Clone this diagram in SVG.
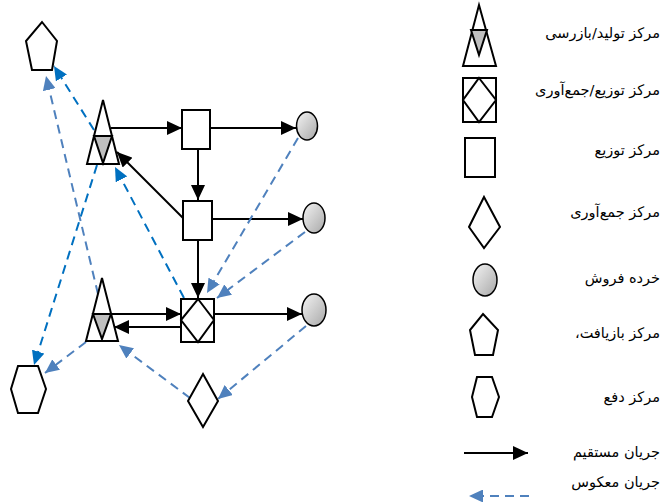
<svg xmlns="http://www.w3.org/2000/svg" width="665" height="502" viewBox="0 0 665 502">
<style>
.s{fill:#fff;stroke:#000;stroke-width:2;stroke-linejoin:miter}
.g{fill:#bfbfbf;stroke:#000;stroke-width:2}
.e{fill:url(#gr);stroke:#000;stroke-width:1.5}
.k{stroke:#000;stroke-width:2;fill:none;marker-end:url(#ak)}
.d1{stroke:#0070C0;stroke-width:2;fill:none;stroke-dasharray:9 6;marker-end:url(#ab1)}
.d2{stroke:#4F81BD;stroke-width:2;fill:none;stroke-dasharray:9 6;marker-end:url(#ab2)}
.t{font-family:"DejaVu Sans","Noto Sans",sans-serif;font-size:14.5px;fill:#000;direction:rtl;text-anchor:start;unicode-bidi:embed}
</style>
<defs>
<linearGradient id="gr" x1="0" y1="0" x2="1" y2="1">
<stop offset="0" stop-color="#f4f4f4"/>
<stop offset="1" stop-color="#a8a8a8"/>
</linearGradient>
<marker id="ak" markerUnits="userSpaceOnUse" markerWidth="15" markerHeight="14" viewBox="0 0 15 14" refX="15" refY="7" orient="auto"><path d="M0,0 L15,7 L0,14 z" fill="#000"/></marker>
<marker id="ab1" markerUnits="userSpaceOnUse" markerWidth="14" markerHeight="13" viewBox="0 0 14 13" refX="14" refY="6.5" orient="auto"><path d="M0,0 L14,6.5 L0,13 z" fill="#0070C0"/></marker>
<marker id="ab2" markerUnits="userSpaceOnUse" markerWidth="14" markerHeight="13" viewBox="0 0 14 13" refX="14" refY="6.5" orient="auto"><path d="M0,0 L14,6.5 L0,13 z" fill="#4F81BD"/></marker>
</defs>

<g id="connectors">
<line class="k" x1="111" y1="128" x2="182" y2="128"/>
<line class="k" x1="210" y1="128" x2="296" y2="128"/>
<line class="k" x1="198" y1="149" x2="198" y2="200"/>
<line class="k" x1="212" y1="219" x2="303" y2="219"/>
<line class="k" x1="183" y1="218" x2="117" y2="152"/>
<line class="k" x1="198" y1="240" x2="198" y2="298"/>
<line class="k" x1="110" y1="314" x2="181" y2="314"/>
<line class="k" x1="181" y1="327" x2="114" y2="327"/>
<line class="k" x1="214" y1="314" x2="302" y2="314"/>
<line class="d1" x1="94" y1="130" x2="54" y2="66"/>
<line class="d2" x1="98" y1="294" x2="46" y2="76"/>
<line class="d1" x1="97" y1="165" x2="34" y2="365"/>
<line class="d1" x1="184" y1="298" x2="115" y2="167"/>
<line class="d2" x1="298" y1="138" x2="207" y2="293"/>
<line class="d2" x1="305" y1="232" x2="217" y2="298"/>
<line class="d2" x1="306" y1="326" x2="218" y2="399"/>
<line class="d2" x1="190" y1="398" x2="119" y2="345"/>
<line class="d2" x1="86" y1="342" x2="45" y2="373"/>
</g>

<g id="recycle1"><polygon class="s" points="42,22 57,41 52,70 32,70 26,41"/></g>
<g id="prod1">
<polygon class="s" points="103,100 119,164 87,164"/>
<polygon class="g" points="94,136 112,136 103,163"/>
</g>
<g id="dist1"><rect class="s" x="182" y="110" width="28" height="39"/></g>
<g id="retail1"><ellipse class="e" cx="307" cy="126" rx="10.5" ry="14"/></g>
<g id="dist2"><rect class="s" x="183" y="201" width="29" height="39"/></g>
<g id="retail2"><ellipse class="e" cx="314" cy="218" rx="11" ry="15"/></g>
<g id="distcol">
<rect class="s" x="181" y="299" width="33" height="43"/>
<polygon class="s" points="198,299 214,320 198,342 181,320"/>
</g>
<g id="retail3"><ellipse class="e" cx="314" cy="310" rx="12" ry="16"/></g>
<g id="prod2">
<polygon class="s" points="102,278 118,341 86,341"/>
<polygon class="g" points="93,314 111,314 102,339"/>
</g>
<g id="collect"><polygon class="s" points="203,374 218,401 203,427 188,401"/></g>
<g id="disposal"><polygon class="s" points="18,366 38,366 46,389 38,413 18,413 11,389"/></g>

<g id="legend">
<polygon class="s" points="479,5 496,66 463,66"/>
<polygon class="g" points="471,30 487,30 479,55"/>
<text class="t" x="660" y="38">مرکز تولید/بازرسی</text>
<rect class="s" x="463" y="78" width="33" height="44"/>
<polygon class="s" points="479,78 496,100 479,122 463,100"/>
<text class="t" x="660" y="95">مرکز توزیع/جمع‌آوری</text>
<rect class="s" x="465" y="138" width="30" height="39"/>
<text class="t" x="660" y="155">مرکز توزیع</text>
<polygon class="s" points="484,197 500,227 484,248 469,227"/>
<text class="t" x="660" y="217">مرکز جمع‌آوری</text>
<ellipse class="e" cx="485" cy="280" rx="12" ry="16"/>
<text class="t" x="660" y="283">خرده فروش</text>
<polygon class="s" points="483,314 498,330 493,355 475,355 470,330"/>
<text class="t" x="660" y="338">مرکز بازیافت،</text>
<polygon class="s" points="477,377 492,377 499,397 492,417 477,417 472,397"/>
<text class="t" x="660" y="402">مرکز دفع</text>
<line class="k" x1="464" y1="453" x2="528" y2="453"/>
<text class="t" x="660" y="457">جریان مستقیم</text>
<line stroke="#4F81BD" stroke-width="2" stroke-dasharray="9 6" x1="529" y1="496" x2="469" y2="496" marker-end="url(#ab2)"/>
<text class="t" x="660" y="487">جریان معکوس</text>
</g>
</svg>
